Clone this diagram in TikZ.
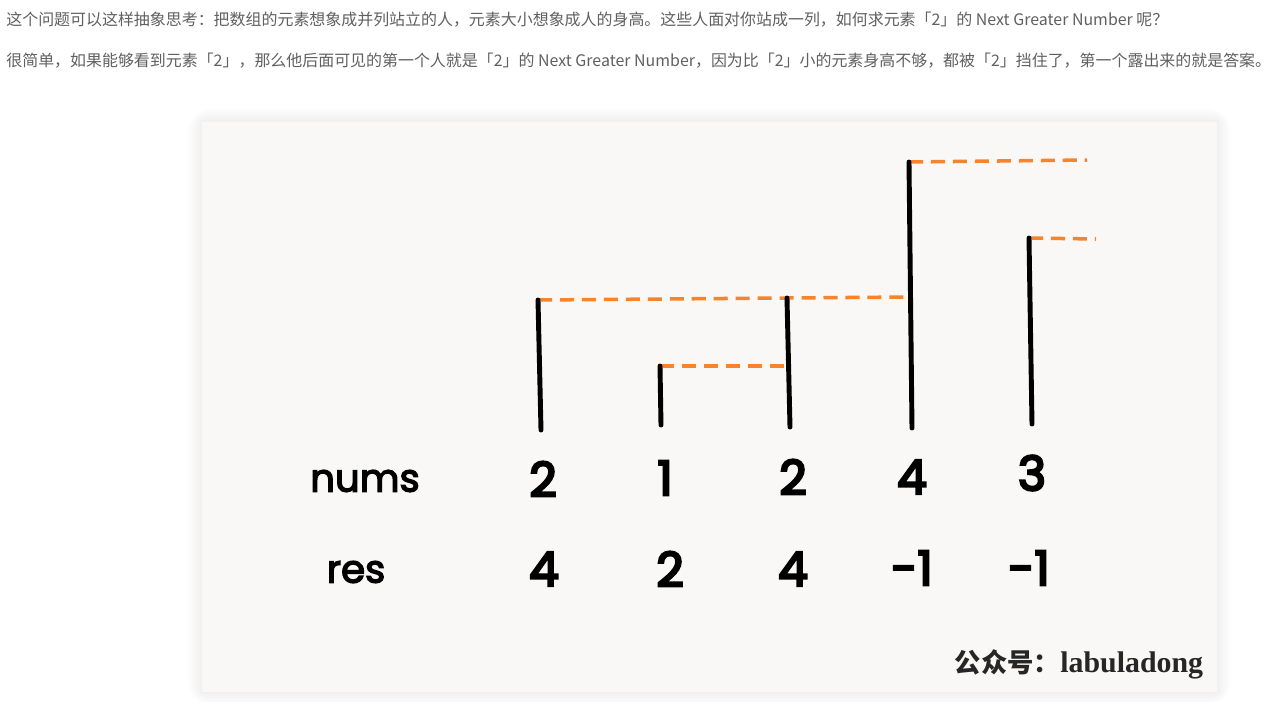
\documentclass[tikz,border=0pt]{standalone}
\usepackage{fontspec}
\setmainfont{Noto Sans CJK SC}
\newfontfamily\cjk{Noto Sans CJK SC}
\newfontfamily\handfont[FakeBold=5]{Poppins}
\newfontfamily\labelfont[FakeBold=3.5]{Poppins}
\newfontfamily\wmfont{Liberation Serif}
\definecolor{dashorange}{RGB}{245,132,44}
\definecolor{cardbg}{RGB}{250,248,246}
\definecolor{textgray}{RGB}{96,96,96}
\tikzset{
  intro/.style={anchor=west, inner sep=0pt, text=textgray, font=\cjk\fontsize{9.08}{10}\selectfont},
  bar/.style={line width=2.8pt, line cap=round, black},
  nextline/.style={line width=2pt, dashorange, dash pattern=on 8pt off 4.5pt},
  numtxt/.style={inner sep=0pt, font=\handfont\fontsize{27}{30}\selectfont},
  rowtxt/.style={inner sep=0pt, font=\labelfont\fontsize{22}{26}\selectfont}
}
\begin{document}
\begin{tikzpicture}[x=0.02cm, y=-0.02cm]
  \useasboundingbox[fill=white] (0,0) rectangle (1276,701);
  % intro text
  \node[intro] (line1) at (6,20) {这个问题可以这样抽象思考：把数组的元素想象成并列站立的人，元素大小想象成人的身高。这些人面对你站成一列，如何求元素「2」的 Next Greater Number 呢？};
  \node[intro] (line2) at (6,61) {很简单，如果能够看到元素「2」，那么他后面可见的第一个人就是「2」的 Next Greater Number，因为比「2」小的元素身高不够，都被「2」挡住了，第一个露出来的就是答案。};
  % card with soft shadow
  \foreach \s in {14,12,10,8,6,4,2}
    \fill[black, opacity=0.008, rounded corners=\s] (202-\s,122-\s) rectangle (1217+\s,692+\s);
  \fill[cardbg] (202,122) rectangle (1217,692);
  % bar tops and feet
  \coordinate (t1) at (538,300); \coordinate (b1) at (541,430);
  \coordinate (t2) at (660,366); \coordinate (b2) at (661,425);
  \coordinate (t3) at (787,298); \coordinate (b3) at (790,427);
  \coordinate (t4) at (909,162); \coordinate (b4) at (912,428);
  \coordinate (t5) at (1029,238); \coordinate (b5) at (1032,424);
  % where the dashed lines stop
  \coordinate (h1) at (909,297);
  \coordinate (h2) at (788,366);
  \coordinate (h4) at (1087,160);
  \coordinate (h5) at (1096,239);
  % dashed lines
  \draw[nextline] (t1) -- (h1);
  \draw[nextline] (t2) -- (h2);
  \draw[nextline] (t4) -- (h4);
  \draw[nextline] (t5) -- (h5);
  % bars
  \draw[bar] (t1) -- (b1);
  \draw[bar] (t2) -- (b2);
  \draw[bar] (t3) -- (b3);
  \draw[bar] (t4) -- (b4);
  \draw[bar] (t5) -- (b5);
  % nums row
  \node[rowtxt] (numslbl) at (365,481) {nums};
  \node[numtxt] (n1) at (543,479) {2};
  \node[numtxt] (n2) at (665,478) {1};
  \node[numtxt] (n3) at (793,477) {2};
  \node[numtxt] (n4) at (912,477) {4};
  \node[numtxt] (n5) at (1032,473) {3};
  % res row
  \node[rowtxt] (reslbl) at (356,572) {res};
  \node[numtxt] (r1) at (544,569) {4};
  \node[numtxt] (r2) at (670,569) {2};
  \node[numtxt] (r3) at (793,569) {4};
  \node[numtxt] (r4) at (912,568) {-1};
  \node[numtxt] (r5) at (1029,568) {-1};
  % watermark
  \node[inner sep=0pt, text=black!85] (wm) at (1079,664)
    {\cjk\bfseries\fontsize{15}{18}\selectfont 公众号：\wmfont\fontsize{17}{18}\selectfont labuladong};
\end{tikzpicture}
\end{document}
